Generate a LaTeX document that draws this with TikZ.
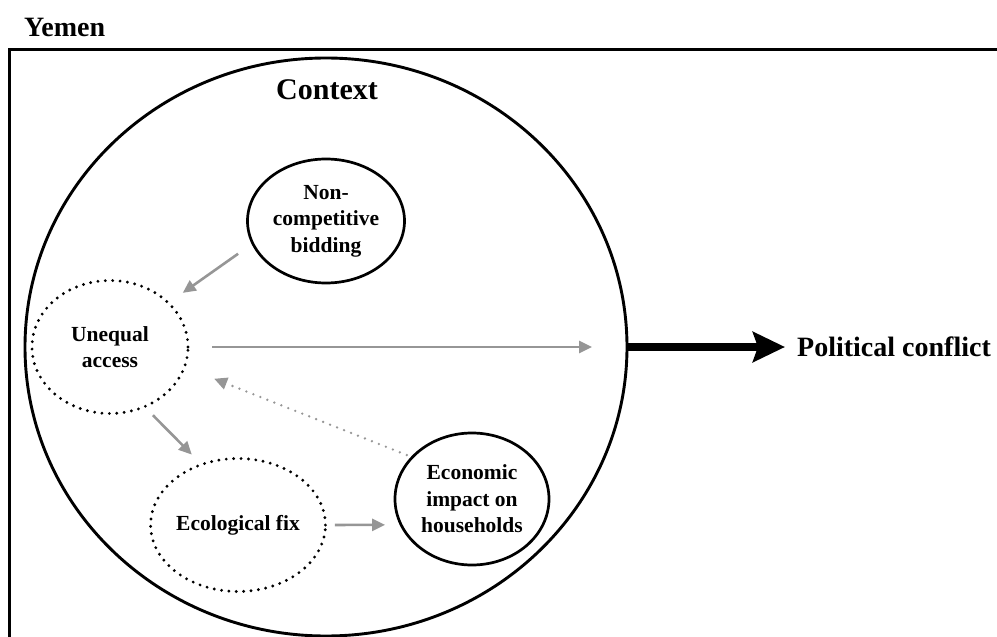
\documentclass[tikz,border=0pt]{standalone}
\usepackage{fontspec}
\setmainfont{Liberation Serif}
\usetikzlibrary{shapes.geometric,arrows.meta}

\definecolor{linkgray}{RGB}{150,150,150}

\tikzset{
  solidbubble/.style={ellipse, draw=black, line width=2.7pt, inner sep=0pt, outer sep=0pt,
    align=center, font=\bfseries\fontsize{21.5}{26.5}\selectfont},
  dotbubble/.style={solidbubble, line width=3.2pt, line cap=round, dash pattern=on 0pt off 7.4pt},
  link/.style={draw=linkgray, line width=2.6pt, -{Triangle[length=13pt,width=12pt]}},
  dotlink/.style={link, line cap=round, dash pattern=on 0pt off 7.5pt},
  heading/.style={font=\bfseries\fontsize{28}{32}\selectfont, inner sep=0pt}
}

\begin{document}
\begin{tikzpicture}[x=1pt, y=-1pt]
  \useasboundingbox (0,0) rectangle (997,637);

  % outer country frame (open to the right and bottom)
  \draw[line width=3pt] (9,660) -- (9,49) -- (1010,49);
  \node[heading, anchor=base west] (yemen) at (24,36) {Yemen};

  % context circle
  \node[ellipse, draw, line width=2.9pt, minimum width=602pt, minimum height=578pt,
        inner sep=0pt, outer sep=0pt] (ctx) at (326,347) {};
  \node[heading, font=\bfseries\fontsize{30}{34}\selectfont] (ctxlabel) at (327,90) {Context};

  % factors
  \node[solidbubble, minimum width=157pt, minimum height=124pt] (nc) at (326,221)
    {Non-\\competitive\\bidding};
  \node[dotbubble, minimum width=156pt, minimum height=133pt] (ua) at (110,347)
    {Unequal\\access};
  \node[dotbubble, minimum width=153pt, minimum height=133pt] (ef) at (238,525)
    {Ecological fix};
  \node[solidbubble, minimum width=154pt, minimum height=132pt] (ei) at (472,499)
    {Economic\\impact on\\households};

  % outcome
  \node[heading, anchor=west] (pc) at (797,347) {Political conflict};

  % links between factors
  \draw[link, shorten <=18pt, shorten >=17.5pt] (nc.197) -- (ua.37);
  \draw[link, shorten <=24pt, shorten >=35pt] (ua.east) -- (ctx.east);
  \draw[link, shorten <=12pt, shorten >=14pt] (ua.300) -- (ef.121);
  \draw[link, shorten <=9.5pt, shorten >=16pt] (ef.east) -- (ei.200);
  \draw[dotlink, shorten <=6pt, shorten >=32pt] (ei.145) -- (ua.345);

  % context leads to conflict
  \draw[line width=8.5pt, -{Stealth[length=32pt,width=30pt,inset=5pt]}, shorten >=12pt]
    (ctx.east) -- (pc.west);
\end{tikzpicture}
\end{document}
